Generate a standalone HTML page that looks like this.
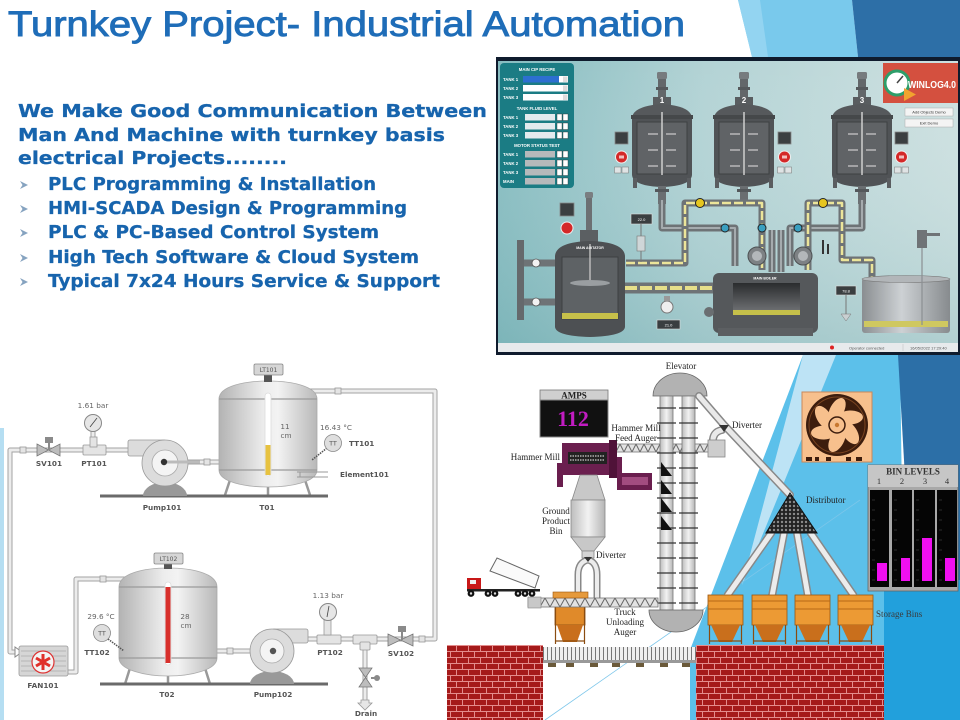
<!DOCTYPE html>
<html><head><meta charset="utf-8">
<style>
html,body{margin:0;padding:0;background:#fff;width:960px;height:720px;overflow:hidden}
svg{display:block}
.lb{font-family:"DejaVu Sans",sans-serif;font-weight:bold;font-size:7.3px;fill:#555;text-anchor:middle}
.vl{font-family:"DejaVu Sans",sans-serif;font-size:7.3px;fill:#666;text-anchor:middle}
.sf{font-family:"Liberation Serif",serif;font-size:9px;fill:#222}
.tw{font-family:"Liberation Sans",sans-serif;font-size:4.3px;fill:#fff;font-weight:bold}
.hd{font-family:"DejaVu Sans",sans-serif;font-weight:bold;font-size:18px;fill:#1764ad;stroke:#1764ad;stroke-width:0.3}
</style></head>
<body>
<svg width="960" height="720" viewBox="0 0 960 720" xmlns="http://www.w3.org/2000/svg">
<defs>
 <linearGradient id="scBg" x1="0" x2="1" y1="0" y2="0">
  <stop offset="0" stop-color="#86bcc0"/><stop offset="0.45" stop-color="#b3d3d5"/><stop offset="1" stop-color="#cde0e0"/>
 </linearGradient>
 <linearGradient id="scV" x1="0" x2="0" y1="0" y2="1">
  <stop offset="0" stop-color="#ffffff" stop-opacity="0"/><stop offset="1" stop-color="#5e9ea3" stop-opacity="0.25"/>
 </linearGradient>
 <linearGradient id="tankG" x1="0" x2="1" y1="0" y2="0">
  <stop offset="0" stop-color="#b3b3b3"/><stop offset="0.45" stop-color="#ececec"/><stop offset="0.6" stop-color="#f3f3f3"/><stop offset="1" stop-color="#b8b8b8"/>
 </linearGradient>
 <linearGradient id="rtG" x1="0" x2="1" y1="0" y2="0">
  <stop offset="0" stop-color="#8a8e91"/><stop offset="0.45" stop-color="#cdd1d4"/><stop offset="1" stop-color="#878b8e"/>
 </linearGradient>
 <linearGradient id="winG" x1="0" x2="0" y1="0" y2="1">
  <stop offset="0" stop-color="#2a2c2e"/><stop offset="1" stop-color="#77797c"/>
 </linearGradient>
 <linearGradient id="elG" x1="0" x2="1" y1="0" y2="0">
  <stop offset="0" stop-color="#bdbdbd"/><stop offset="0.5" stop-color="#f2f2f2"/><stop offset="1" stop-color="#b5b5b5"/>
 </linearGradient>
 <pattern id="brick" x="0" y="645" width="24" height="12" patternUnits="userSpaceOnUse">
  <rect width="24" height="12" fill="#a51a1a"/>
  <path d="M0,0.5H24M0,6.5H24M0.5,0V6.5M12.5,0V6.5M6.5,6.5V12M18.5,6.5V12" stroke="#e48c8c" stroke-width="1" fill="none"/>
 </pattern>
 <pattern id="roll" x="543" y="0" width="4" height="20" patternUnits="userSpaceOnUse">
  <rect width="4" height="20" fill="#efefef"/><rect width="1" height="20" fill="#777"/>
 </pattern>
 <pattern id="aug1" x="0" y="444" width="8" height="8" patternUnits="userSpaceOnUse">
  <rect width="8" height="8" fill="#e2e2e2"/><path d="M0,8L4,0L8,8" stroke="#666" fill="none" stroke-width="1"/>
 </pattern>
 <pattern id="aug2" x="0" y="598" width="10" height="9" patternUnits="userSpaceOnUse">
  <rect width="10" height="9" fill="#e2e2e2"/><path d="M0,9L5,0L10,9" stroke="#666" fill="none" stroke-width="1"/>
 </pattern>
 <pattern id="dots" width="4" height="4" patternUnits="userSpaceOnUse">
  <rect width="4" height="4" fill="#222"/><circle cx="2" cy="2" r="1.2" fill="#8a8a8a"/>
 </pattern>
 <g id="reactor">
  <rect x="-5" y="72" width="10" height="7" rx="1.5" fill="#777b7e"/>
  <rect x="-4" y="79" width="8" height="18" fill="#63676a"/>
  <rect x="-6" y="87" width="12" height="3" fill="#55595c"/>
  <rect x="-9" y="97" width="18" height="8" fill="#595d60"/>
  <path d="M-30,118 Q-29,106 0,104 Q29,106 30,118 Z" fill="#56595c"/>
  <rect x="-31" y="115" width="62" height="4" fill="#45484a"/>
  <rect x="-30" y="119" width="60" height="56" fill="#505356"/>
  <rect x="-25" y="122" width="50" height="52" fill="#606366" stroke="#3e4143" stroke-width="1"/>
  <line x1="0" y1="112" x2="0" y2="178" stroke="#cfcfcf" stroke-width="1.5"/>
  <path d="M-14,134H-4M4,134H14M-14,150H-4M4,150H14M-14,166H-4M4,166H14" stroke="#b8b8b8" stroke-width="1.5"/>
  <path d="M-30,175 Q-29,186 0,187 Q29,186 30,175 Z" fill="#505356"/>
  <rect x="-29" y="178" width="4" height="10" fill="#5a5d60"/>
  <rect x="25" y="178" width="4" height="10" fill="#5a5d60"/>
  <rect x="-4" y="186" width="8" height="18" fill="#6a6e71"/>
  <rect x="-7" y="189" width="14" height="3" fill="#54585b"/>
 </g>
 <g id="ctl">
  <rect x="0" y="0" width="13" height="12" fill="#3b3f41" stroke="#888" stroke-width="0.8"/>
  <circle cx="6.5" cy="25" r="6" fill="#d42828" stroke="#eee" stroke-width="1"/>
  <rect x="4" y="23.5" width="5" height="3" fill="#fff" opacity="0.7"/>
  <rect x="-0.5" y="35" width="6.5" height="6" fill="#dfe3e4" stroke="#777" stroke-width="0.5"/>
  <rect x="7" y="35" width="6.5" height="6" fill="#dfe3e4" stroke="#777" stroke-width="0.5"/>
 </g>
 <g id="bin">
  <rect x="0" y="595" width="35" height="30" fill="#ec9a34" stroke="#9a5510" stroke-width="0.8"/>
  <path d="M0,601H35M0,609H35" stroke="#b66816" stroke-width="1"/>
  <polygon points="3,625 32,625 24,642 11,642" fill="#c96f1c"/>
  <path d="M1.5,625V644M33.5,625V644M1,641H34" stroke="#8a4c10" stroke-width="1.2"/>
 </g>
</defs>

<!-- ===== Background decorations ===== -->
<rect width="960" height="720" fill="#fff"/>
<polygon points="738,0 852,0 858,57 752,57" fill="#79c9ec"/>
<polygon points="738,0 760,0 768,57 752,57" fill="#93d4f1"/>
<polygon points="852,0 960,0 960,57 858,57" fill="#2d6fa7"/>
<polygon points="803,355 900,355 905,720 690,720 690,650" fill="#5cc0ea"/>
<polygon points="803,355 836,355 742,585" fill="#bde3f5"/>
<polygon points="898,355 960,355 960,600 912,600" fill="#2c6fa7"/>
<polygon points="884,590 960,580 960,720 884,720" fill="#22a0dc"/>
<line x1="545" y1="720" x2="860" y2="500" stroke="#7cc6ea" stroke-width="0.8"/>
<rect x="0" y="428" width="4" height="292" fill="#b5def2"/>

<!-- ===== Title & text ===== -->
<text x="8" y="36" font-family="Liberation Sans, sans-serif" font-size="35" fill="#1f6db8" stroke="#1f6db8" stroke-width="0.9" textLength="677" lengthAdjust="spacingAndGlyphs">Turnkey Project- Industrial Automation</text>
<text class="hd" x="18" y="117" textLength="469" lengthAdjust="spacingAndGlyphs">We Make Good Communication Between</text>
<text class="hd" x="18" y="141" textLength="427" lengthAdjust="spacingAndGlyphs">Man And Machine with turnkey basis</text>
<text class="hd" x="18" y="164" textLength="269" lengthAdjust="spacingAndGlyphs">electrical Projects........</text>
<g fill="#86a3c0">
 <path d="M20,181L28,185L20,189L22.5,185Z"/>
 <path d="M20,205L28,209L20,213L22.5,209Z"/>
 <path d="M20,229L28,233L20,237L22.5,233Z"/>
 <path d="M20,254L28,258L20,262L22.5,258Z"/>
 <path d="M20,278L28,282L20,286L22.5,282Z"/>
</g>
<text class="hd" x="48" y="190" textLength="328" lengthAdjust="spacingAndGlyphs">PLC Programming &amp; Installation</text>
<text class="hd" x="48" y="214" textLength="359" lengthAdjust="spacingAndGlyphs">HMI-SCADA Design &amp; Programming</text>
<text class="hd" x="48" y="238" textLength="331" lengthAdjust="spacingAndGlyphs">PLC &amp; PC-Based Control System</text>
<text class="hd" x="48" y="263" textLength="371" lengthAdjust="spacingAndGlyphs">High Tech Software &amp; Cloud System</text>
<text class="hd" x="48" y="287" textLength="392" lengthAdjust="spacingAndGlyphs">Typical 7x24 Hours Service &amp; Support</text>

<!-- ===== SCADA panel ===== -->
<rect x="496" y="57" width="464" height="298" fill="#0f1b2d"/>
<rect x="498" y="61" width="460" height="282" fill="url(#scBg)"/>
<rect x="498" y="61" width="460" height="282" fill="url(#scV)"/>
<rect x="498" y="343" width="460" height="9" fill="#e7eaec"/>
<circle cx="832" cy="347.5" r="2" fill="#d22"/>
<text x="849" y="349.5" font-family="Liberation Sans, sans-serif" font-size="4" fill="#555">Operator connected</text>
<line x1="903" y1="344" x2="903" y2="351" stroke="#bbb" stroke-width="0.5"/>
<text x="910" y="349.5" font-family="Liberation Sans, sans-serif" font-size="4" fill="#555">16/05/2022 17:29:40</text>

<!-- control box -->
<rect x="500" y="63" width="74" height="125" rx="4" fill="#1b7c84"/>
<text class="tw" x="537" y="71" text-anchor="middle">MAIN CIP RECIPE</text>
<g>
 <text class="tw" x="503" y="81">TANK 1</text><rect x="523" y="76" width="45" height="6.5" fill="#fff"/><rect x="523" y="76" width="36" height="6.5" fill="#2d6fd0"/><rect x="563" y="76.5" width="4.5" height="5.5" fill="#ddd"/>
 <text class="tw" x="503" y="90">TANK 2</text><rect x="523" y="85" width="45" height="6.5" fill="#fff"/><rect x="563" y="85.5" width="4.5" height="5.5" fill="#ddd"/>
 <text class="tw" x="503" y="99">TANK 3</text><rect x="523" y="94" width="45" height="6.5" fill="#fff"/><rect x="563" y="94.5" width="4.5" height="5.5" fill="#ddd"/>
</g>
<text class="tw" x="537" y="110" text-anchor="middle">TANK FLUID LEVEL</text>
<g fill="#e3eaee">
 <text class="tw" x="503" y="119">TANK 1</text><rect x="525" y="114" width="30" height="6.5"/>
 <text class="tw" x="503" y="128">TANK 2</text><rect x="525" y="123" width="30" height="6.5"/>
 <text class="tw" x="503" y="137">TANK 3</text><rect x="525" y="132" width="30" height="6.5"/>
</g>
<text class="tw" x="537" y="147" text-anchor="middle">MOTOR STATUS TEST</text>
<g fill="#b6b9bb">
 <text class="tw" x="503" y="156">TANK 1</text><rect x="525" y="151" width="30" height="6.5"/>
 <text class="tw" x="503" y="165">TANK 2</text><rect x="525" y="160" width="30" height="6.5"/>
 <text class="tw" x="503" y="174">TANK 3</text><rect x="525" y="169" width="30" height="6.5"/>
 <text class="tw" x="503" y="183">MAIN</text><rect x="525" y="178" width="30" height="6.5"/>
</g>
<g fill="#fff" stroke="#333" stroke-width="0.4">
 <rect x="557" y="114" width="5" height="6.5"/><rect x="563" y="114" width="5" height="6.5"/>
 <rect x="557" y="123" width="5" height="6.5"/><rect x="563" y="123" width="5" height="6.5"/>
 <rect x="557" y="132" width="5" height="6.5"/><rect x="563" y="132" width="5" height="6.5"/>
 <rect x="557" y="151" width="5" height="6.5"/><rect x="563" y="151" width="5" height="6.5"/>
 <rect x="557" y="160" width="5" height="6.5"/><rect x="563" y="160" width="5" height="6.5"/>
 <rect x="557" y="169" width="5" height="6.5"/><rect x="563" y="169" width="5" height="6.5"/>
 <rect x="557" y="178" width="5" height="6.5"/><rect x="563" y="178" width="5" height="6.5"/>
</g>

<!-- reactors -->
<use href="#reactor" transform="translate(662,0)"/>
<use href="#reactor" transform="translate(744,0)"/>
<use href="#reactor" transform="translate(862,0)"/>
<g font-family="Liberation Sans, sans-serif" font-size="8" font-weight="bold" fill="#fff" text-anchor="middle">
 <text x="662" y="103">1</text><text x="744" y="103">2</text><text x="862" y="103">3</text>
</g>
<use href="#ctl" transform="translate(615,132)"/>
<use href="#ctl" transform="translate(778,132)"/>
<use href="#ctl" transform="translate(895,132)"/>

<!-- winlog -->
<rect x="883" y="63" width="75" height="40" fill="#d4503f"/>
<circle cx="897" cy="83" r="12" fill="#fff" stroke="#2e9e6a" stroke-width="3"/>
<line x1="897" y1="83" x2="903" y2="76" stroke="#444" stroke-width="1.5"/>
<text x="908" y="88" font-family="Liberation Sans, sans-serif" font-size="10" font-weight="bold" fill="#fff" textLength="48" lengthAdjust="spacingAndGlyphs">WINLOG4.0</text>
<polygon points="904,88 904,101 916,94.5" fill="#f2a32f"/>
<rect x="905" y="108" width="48" height="8" fill="#f4f4f4" stroke="#aaa" stroke-width="0.5"/>
<text x="929" y="113.5" font-family="Liberation Sans, sans-serif" font-size="4" fill="#333" text-anchor="middle">Add Objects Demo</text>
<rect x="905" y="119" width="48" height="8" fill="#f4f4f4" stroke="#aaa" stroke-width="0.5"/>
<text x="929" y="124.5" font-family="Liberation Sans, sans-serif" font-size="4" fill="#333" text-anchor="middle">Exit Demo</text>

<!-- lower scada pipes -->
<g fill="none" stroke-linejoin="round" stroke-linecap="butt">
 <path d="M662,200V228H735V266M862,200V228H790V266M772,230V272M781,230V272" stroke="#6e7376" stroke-width="7"/>
 <path d="M662,200V228H735V266M862,200V228H790V266M772,230V272M781,230V272" stroke="#a5abae" stroke-width="2"/>
 <path d="M626,263H685V203H762V270M808,270V203H842V260H872V278" stroke="#6e7376" stroke-width="7"/>
 <path d="M626,263H685V203H762V270M808,270V203H842V260H872V278" stroke="#ece59a" stroke-width="2.5" stroke-dasharray="9 3"/>
 <path d="M520,263H556M520,302H556" stroke="#6e7376" stroke-width="7"/>
 <path d="M625,288H713" stroke="#6e7376" stroke-width="11"/>
 <path d="M625,288H713" stroke="#e6df8a" stroke-width="4" stroke-dasharray="12 3"/>
</g>
<g>
 <circle cx="700" cy="203" r="4.5" fill="#e6c620" stroke="#222" stroke-width="1"/>
 <circle cx="823" cy="203" r="4.5" fill="#e6c620" stroke="#222" stroke-width="1"/>
 <circle cx="725" cy="228" r="4" fill="#3a9fc0" stroke="#222" stroke-width="1"/>
 <circle cx="798" cy="228" r="4" fill="#3a9fc0" stroke="#222" stroke-width="1"/>
 <circle cx="762" cy="228" r="4" fill="#3a9fc0" stroke="#222" stroke-width="1"/>
</g>
<!-- main agitator -->
<rect x="517" y="240" width="7" height="80" fill="#65696c"/>
<circle cx="536" cy="263" r="4" fill="#f2f2f2" stroke="#555" stroke-width="0.8"/>
<circle cx="536" cy="302" r="4" fill="#f2f2f2" stroke="#555" stroke-width="0.8"/>
<rect x="585" y="192" width="8" height="6" rx="1.5" fill="#7a7e81"/>
<rect x="586" y="198" width="6" height="40" fill="#6c7073"/>
<rect x="580" y="230" width="18" height="12" fill="#5b5f62"/>
<path d="M555,256 Q556,242 590,241 Q624,242 625,256 V327 Q624,336 590,337 Q556,336 555,327 Z" fill="#4d5053"/>
<rect x="562" y="257" width="56" height="62" fill="#5e6265" stroke="#3d4042" stroke-width="1"/>
<rect x="562" y="313" width="56" height="6" fill="#c7c04a"/>
<line x1="590" y1="244" x2="590" y2="285" stroke="#bbb" stroke-width="1.5"/>
<ellipse cx="590" cy="283" rx="20" ry="3" fill="#9a9ea1"/>
<text x="590" y="249" font-family="Liberation Sans, sans-serif" font-size="3.5" fill="#fff" text-anchor="middle" font-weight="bold">MAIN AGITATOR</text>
<rect x="560" y="203" width="14" height="13" fill="#3b3f41" stroke="#888" stroke-width="0.8"/>
<circle cx="567" cy="228" r="6" fill="#d42828" stroke="#eee" stroke-width="1"/>
<rect x="631" y="214" width="21" height="10" fill="#3a3e40" stroke="#ddd" stroke-width="0.6"/>
<text x="641.5" y="221" font-family="Liberation Sans, sans-serif" font-size="4" fill="#fff" text-anchor="middle">22.0</text>
<line x1="641" y1="224" x2="641" y2="262" stroke="#777" stroke-width="1"/>
<rect x="637" y="236" width="8" height="15" fill="#cfd6d8" stroke="#777" stroke-width="0.6"/>
<!-- boiler -->
<circle cx="757" cy="256" r="9" fill="#7d8184" stroke="#4d5153" stroke-width="1"/>
<circle cx="757" cy="256" r="5" fill="#b3b7ba"/>
<circle cx="803" cy="256" r="9" fill="#7d8184" stroke="#4d5153" stroke-width="1"/>
<circle cx="803" cy="256" r="5" fill="#b3b7ba"/>
<rect x="713" y="273" width="105" height="60" rx="6" fill="#55585b"/>
<rect x="733" y="283" width="67" height="32" fill="url(#winG)"/>
<rect x="733" y="310" width="67" height="5" fill="#c5c04a"/>
<rect x="718" y="328" width="95" height="8" fill="#5c5f62"/>
<circle cx="709" cy="312" r="5" fill="#6a6e71"/>
<text x="765" y="279.5" font-family="Liberation Sans, sans-serif" font-size="3.5" fill="#fff" text-anchor="middle" font-weight="bold">MAIN BOILER</text>
<circle cx="667" cy="307" r="6" fill="#eee" stroke="#777" stroke-width="1"/>
<rect x="664" y="296" width="6" height="5" fill="#999"/>
<rect x="657" y="320" width="23" height="9" fill="#3a3e40" stroke="#ddd" stroke-width="0.6"/>
<text x="668.5" y="326.5" font-family="Liberation Sans, sans-serif" font-size="4" fill="#fff" text-anchor="middle">21.0</text>
<rect x="822" y="240" width="2" height="14" fill="#333"/><rect x="827" y="244" width="2" height="10" fill="#333"/>
<!-- right tank -->
<rect x="862" y="278" width="88" height="55" rx="3" fill="url(#rtG)"/>
<ellipse cx="906" cy="279" rx="44" ry="3.5" fill="#b2b6b9" stroke="#777" stroke-width="0.6"/>
<rect x="864" y="321" width="84" height="6" fill="#cfc860"/>
<rect x="917" y="230" width="10" height="18" fill="#6f7376"/>
<rect x="927" y="233" width="13" height="3" fill="#6f7376"/>
<line x1="922" y1="248" x2="922" y2="325" stroke="#8b8f92" stroke-width="1.2"/>
<rect x="836" y="286" width="20" height="9" fill="#3a3e40" stroke="#ddd" stroke-width="0.6"/>
<text x="846" y="292.5" font-family="Liberation Sans, sans-serif" font-size="4" fill="#fff" text-anchor="middle">78.8</text>
<line x1="846" y1="295" x2="846" y2="316" stroke="#777" stroke-width="1"/>
<path d="M841,314 L851,314 L846,321 Z" fill="#c9cfd1" stroke="#777" stroke-width="0.5"/>

<!-- ===== P&ID (bottom left) ===== -->
<g fill="none" stroke-linejoin="round">
 <path d="M135,450H10V652H17M163,462H219M300,391H435V639H305M125,579H76V672H67M216,651H272M93,430V450M327,620V639M365,639V703" stroke="#a3a3a3" stroke-width="5"/>
 <path d="M135,450H10V652H17M163,462H219M300,391H435V639H305M125,579H76V672H67M216,651H272M93,430V450M327,620V639M365,639V703" stroke="#ececec" stroke-width="3"/>
</g>
<polygon points="15,647 22,652 15,657" fill="#fff" stroke="#888" stroke-width="1"/>
<g fill="#e4e4e4" stroke="#999" stroke-width="0.8">
 <rect x="20" y="447" width="6" height="6"/><rect x="204" y="459" width="6" height="6"/>
 <rect x="335" y="388" width="6" height="6"/><rect x="419" y="636" width="6" height="6"/>
 <rect x="227" y="648" width="6" height="6"/><rect x="100" y="576" width="6" height="6"/>
 <rect x="83" y="445" width="23" height="10" rx="1"/><rect x="317" y="635" width="24" height="9" rx="1"/>
 <rect x="353" y="635" width="24" height="9" rx="1"/><rect x="360" y="642" width="10" height="8" rx="1"/>
 <rect x="90" y="437" width="7" height="10"/><rect x="324" y="620" width="7" height="15"/>
</g>
<!-- gauges -->
<circle cx="93" cy="423" r="8.5" fill="#e6e6e6" stroke="#888" stroke-width="1"/>
<line x1="90" y1="427" x2="97" y2="418" stroke="#444" stroke-width="0.8"/>
<circle cx="328" cy="612" r="8.5" fill="#e6e6e6" stroke="#888" stroke-width="1"/>
<line x1="327" y1="617" x2="329" y2="606" stroke="#444" stroke-width="0.8"/>
<!-- valves -->
<g fill="#bdbdbd" stroke="#777" stroke-width="0.8">
 <polygon points="37,444 60,456 60,444 37,456"/>
 <polygon points="388,634 413,646 413,634 388,646"/>
 <polygon points="359,668 372,687 359,687 372,668"/>
</g>
<g fill="#8a8a8a">
 <rect x="45" y="437" width="8" height="6"/><rect x="48" y="443" width="2" height="7"/>
 <rect x="398" y="626" width="8" height="6"/><rect x="401" y="632" width="2" height="8"/>
 <circle cx="377" cy="678" r="3"/><rect x="371" y="677" width="4" height="2"/>
</g>
<polygon points="361,700 369,700 369,703 372,703 365,710 358,703 361,703" fill="#e6e6e6" stroke="#999" stroke-width="0.8"/>
<!-- T01 -->
<path d="M230,480L225,495M305,480L310,495M268,486V495" stroke="#999" stroke-width="2.5"/>
<path d="M219,399 C219,386 245,381 268,381 C291,381 317,386 317,399 L317,470 C317,482 291,487 268,487 C245,487 219,482 219,470 Z" fill="url(#tankG)" stroke="#aaa" stroke-width="0.8"/>
<path d="M219,399H317M219,470H317" stroke="#9a9a9a" stroke-width="1.2"/>
<rect x="265" y="393" width="6" height="83" rx="3" fill="#fff" stroke="#ddd" stroke-width="0.8"/>
<rect x="265.5" y="445" width="5" height="30" fill="#e7c240"/>
<rect x="264" y="374" width="8" height="8" fill="#555"/>
<rect x="254" y="364" width="29" height="11" rx="1.5" fill="#d6d6d6" stroke="#888" stroke-width="0.8"/>
<text x="268.5" y="372" font-family="DejaVu Sans, sans-serif" font-size="6" fill="#555" text-anchor="middle">LT101</text>
<!-- T02 -->
<path d="M130,668L125,684M205,668L210,684M168,674V684" stroke="#999" stroke-width="2.5"/>
<path d="M119,587 C119,573 145,568 168,568 C191,568 217,573 217,587 L217,658 C217,670 191,676 168,676 C145,676 119,670 119,658 Z" fill="url(#tankG)" stroke="#aaa" stroke-width="0.8"/>
<path d="M119,587H217M119,658H217" stroke="#9a9a9a" stroke-width="1.2"/>
<rect x="165" y="582" width="6" height="83" rx="3" fill="#fff" stroke="#ddd" stroke-width="0.8"/>
<rect x="165.5" y="587" width="5" height="76" fill="#d8302c"/>
<rect x="164" y="563" width="8" height="6" fill="#555"/>
<rect x="154" y="553" width="29" height="11" rx="1.5" fill="#d6d6d6" stroke="#888" stroke-width="0.8"/>
<text x="168.5" y="561" font-family="DejaVu Sans, sans-serif" font-size="6" fill="#555" text-anchor="middle">LT102</text>
<!-- ground lines -->
<rect x="100" y="494.5" width="228" height="3" fill="#6a6a6a"/>
<rect x="100" y="682.5" width="228" height="3" fill="#6a6a6a"/>
<!-- pump101 -->
<path d="M143,496 A22,14 0 0,1 187,496 Z" fill="#999"/>
<rect x="128" y="440" width="38" height="16" rx="2" fill="#dcdcdc" stroke="#999" stroke-width="0.8"/>
<circle cx="165" cy="463" r="23" fill="#dcdcdc" stroke="#999" stroke-width="0.8"/>
<circle cx="165" cy="463" r="13" fill="#f4f4f4" stroke="#aaa" stroke-width="0.8"/>
<line x1="165" y1="462" x2="200" y2="462" stroke="#bbb" stroke-width="3"/>
<circle cx="164" cy="462" r="3.2" fill="#333"/>
<!-- pump102 -->
<path d="M250,684 A22,13 0 0,1 294,684 Z" fill="#999"/>
<rect x="272" y="629" width="36" height="14" rx="2" fill="#dcdcdc" stroke="#999" stroke-width="0.8"/>
<circle cx="272" cy="651" r="22" fill="#dcdcdc" stroke="#999" stroke-width="0.8"/>
<circle cx="272" cy="651" r="12" fill="#f4f4f4" stroke="#aaa" stroke-width="0.8"/>
<circle cx="273" cy="651" r="3.2" fill="#555"/>
<!-- TT -->
<line x1="327" y1="448" x2="312" y2="460" stroke="#555" stroke-width="1.6" stroke-dasharray="1.5 1"/>
<circle cx="333" cy="443" r="8.5" fill="#dedede" stroke="#888" stroke-width="0.8"/>
<text x="333" y="445.5" font-family="DejaVu Sans, sans-serif" font-size="6.5" fill="#555" text-anchor="middle">TT</text>
<line x1="108" y1="639" x2="124" y2="651" stroke="#555" stroke-width="1.6" stroke-dasharray="1.5 1"/>
<circle cx="102" cy="633" r="8.5" fill="#dedede" stroke="#888" stroke-width="0.8"/>
<text x="102" y="635.5" font-family="DejaVu Sans, sans-serif" font-size="6.5" fill="#555" text-anchor="middle">TT</text>
<path d="M297,472H328M297,477H328M300,472V477" stroke="#999" stroke-width="1" fill="none"/>
<!-- fan101 -->
<rect x="19" y="646" width="49" height="30" rx="2" fill="#d6d6d6" stroke="#999" stroke-width="0.8"/>
<path d="M21,651H66M21,656H66M21,661H66M21,666H66M21,671H66" stroke="#aaa" stroke-width="0.7"/>
<circle cx="43" cy="662" r="11" fill="#f4f4f4" stroke="#d33" stroke-width="1.2"/>
<path d="M43,654V670M36,658L50,666M36,666L50,658" stroke="#e0302a" stroke-width="3"/>
<!-- labels -->
<text class="lb" x="49" y="466">SV101</text>
<text class="lb" x="94" y="466">PT101</text>
<text class="lb" x="162" y="510">Pump101</text>
<text class="lb" x="267" y="510">T01</text>
<text class="lb" x="349" y="446" style="text-anchor:start">TT101</text>
<text class="lb" x="340" y="477" style="text-anchor:start">Element101</text>
<text class="lb" x="43" y="688">FAN101</text>
<text class="lb" x="97" y="655">TT102</text>
<text class="lb" x="167" y="697">T02</text>
<text class="lb" x="273" y="697">Pump102</text>
<text class="lb" x="330" y="655">PT102</text>
<text class="lb" x="401" y="656">SV102</text>
<text class="lb" x="366" y="716">Drain</text>
<text class="vl" x="93" y="408">1.61 bar</text>
<text class="vl" x="336" y="430">16.43 °C</text>
<text class="vl" x="285" y="429">11</text><text class="vl" x="286" y="438">cm</text>
<text class="vl" x="101" y="619">29.6 °C</text>
<text class="vl" x="185" y="619">28</text><text class="vl" x="186" y="628">cm</text>
<text class="vl" x="328" y="598">1.13 bar</text>

<!-- ===== Factory (bottom right) ===== -->
<rect x="447" y="645" width="96" height="75" fill="url(#brick)"/>
<rect x="696" y="645" width="188" height="75" fill="url(#brick)"/>
<rect x="543" y="647" width="153" height="14" fill="url(#roll)"/>
<rect x="543" y="660" width="153" height="3" fill="#999"/>
<g fill="#6b5a3a">
 <rect x="548" y="663" width="8" height="4"/><rect x="566" y="663" width="8" height="4"/><rect x="590" y="663" width="8" height="4"/>
 <rect x="612" y="663" width="8" height="4"/><rect x="636" y="663" width="8" height="4"/><rect x="660" y="663" width="8" height="4"/><rect x="682" y="663" width="8" height="4"/>
</g>

<rect x="615" y="444" width="95" height="8" fill="url(#aug1)" stroke="#777" stroke-width="0.8"/>
<path d="M653,396 A27,23 0 0,1 707,396 Z" fill="#b2b2b2" stroke="#666" stroke-width="0.8"/>
<rect x="660" y="396" width="13" height="214" fill="url(#elG)" stroke="#777" stroke-width="0.8"/>
<rect x="682" y="396" width="13" height="214" fill="url(#elG)" stroke="#777" stroke-width="0.8"/>
<path d="M657,408H676M679,408H698M657,423H676M679,423H698M657,438H676M679,438H698M657,453H676M679,453H698M657,468H676M679,468H698M657,483H676M679,483H698M657,498H676M679,498H698M657,513H676M679,513H698M657,528H676M679,528H698M657,543H676M679,543H698M657,558H676M679,558H698M657,573H676M679,573H698M657,588H676M679,588H698M657,603H676M679,603H698" stroke="#333" stroke-width="1.3"/>
<g fill="#111">
 <polygon points="661,462 672,476 661,476"/><polygon points="661,480 672,494 661,494"/>
 <polygon points="661,498 672,512 661,512"/><polygon points="661,516 672,530 661,530"/>
</g>
<path d="M649,610 A27,22 0 0,0 703,610 Z" fill="#b2b2b2" stroke="#666" stroke-width="0.8"/>
<g fill="none" stroke-linecap="round">
 <path d="M699,396 L724,425 L790,495 M722,430 Q712,432 713,443" stroke="#888" stroke-width="8"/>
 <path d="M699,396 L724,425 L790,495 M722,430 Q712,432 713,443" stroke="#e9e9e9" stroke-width="5"/>
</g>
<rect x="708" y="440" width="17" height="17" fill="#cdcdcd" stroke="#888" stroke-width="0.8"/>
<path d="M719,425 L729,425 L724,432 Z" fill="#333"/>

<rect x="540" y="390" width="68" height="10" fill="#cfcfcf" stroke="#777" stroke-width="0.8"/>
<text x="574" y="398.5" font-family="Liberation Serif, serif" font-size="9" font-weight="bold" fill="#222" text-anchor="middle">AMPS</text>
<rect x="540" y="400" width="68" height="37" fill="#111" stroke="#888" stroke-width="1"/>
<text x="573" y="426" font-family="Liberation Serif, serif" font-size="22" font-weight="bold" fill="#c21cc2" text-anchor="middle">112</text>

<rect x="557" y="463" width="6" height="24" fill="#6a1e4e"/>
<rect x="615" y="457" width="7" height="20" fill="#6a1e4e"/>
<rect x="617" y="473" width="35" height="17" fill="#6a1e4e"/>
<rect x="622" y="477" width="26" height="8" fill="#a24c80"/>
<rect x="562" y="443" width="53" height="32" fill="#6b1f4f"/>
<rect x="609" y="440" width="8" height="38" fill="#4f1238"/>
<rect x="568" y="452" width="39" height="12" fill="#222"/>
<path d="M570,456H605M570,460H605" stroke="#ccc" stroke-width="1.2" stroke-dasharray="1.5 1"/>
<polygon points="580,475 597,475 605,500 572,500" fill="#c8c8c8" stroke="#888" stroke-width="0.8"/>
<rect x="571" y="500" width="34" height="37" fill="url(#elG)" stroke="#888" stroke-width="0.8"/>
<polygon points="571,537 605,537 594,551 582,551" fill="#c8c8c8" stroke="#888" stroke-width="0.8"/>
<rect x="582" y="551" width="12" height="7" fill="#d5d5d5" stroke="#888" stroke-width="0.8"/>
<g fill="none">
 <path d="M588,560 Q578,562 578,575 V598 M588,560 Q597,562 597,575 V598" stroke="#888" stroke-width="7"/>
 <path d="M588,560 Q578,562 578,575 V598 M588,560 Q597,562 597,575 V598" stroke="#ececec" stroke-width="4"/>
</g>
<path d="M584,557 L592,557 L588,562 Z" fill="#333"/>
<polygon points="490,571 497,558 539,576 535,588" fill="#fafafa" stroke="#666" stroke-width="1"/>
<rect x="467" y="578" width="14" height="12" fill="#c81818"/>
<rect x="470" y="580" width="6" height="4" fill="#eee"/>
<rect x="467" y="589" width="73" height="2.5" fill="#222"/>
<g fill="#111">
 <circle cx="471" cy="593.5" r="3.4"/><circle cx="488" cy="593.5" r="3.4"/><circle cx="495" cy="593.5" r="3.4"/>
 <circle cx="518" cy="593.5" r="3.4"/><circle cx="525" cy="593.5" r="3.4"/><circle cx="532" cy="593.5" r="3.4"/>
</g>
<g fill="#ddd">
 <circle cx="471" cy="593.5" r="1.2"/><circle cx="488" cy="593.5" r="1.2"/><circle cx="495" cy="593.5" r="1.2"/>
 <circle cx="518" cy="593.5" r="1.2"/><circle cx="525" cy="593.5" r="1.2"/><circle cx="532" cy="593.5" r="1.2"/>
</g>
<rect x="555" y="606" width="30" height="19" fill="#e08a2a" stroke="#8a4c10" stroke-width="0.8"/>
<polygon points="557,625 583,625 577,642 563,642" fill="#c96f1c"/>
<path d="M555.5,606V644M584.5,606V644M555,641H585" stroke="#8a4c10" stroke-width="1.2"/>
<rect x="528" y="598" width="130" height="9" fill="url(#aug2)" stroke="#777" stroke-width="0.8"/>
<rect x="528" y="597" width="13" height="11" fill="#c8c8c8" stroke="#888" stroke-width="0.6"/>
<rect x="553" y="592" width="35" height="6" fill="#e69a3c" stroke="#9a5510" stroke-width="0.6"/>

<g fill="none">
 <path d="M772,532L727,596M784,533L772,596M797,533L808,596M810,532L854,596" stroke="#888" stroke-width="8"/>
 <path d="M772,532L727,596M784,533L772,596M797,533L808,596M810,532L854,596" stroke="#ececec" stroke-width="5"/>
</g>
<polygon points="790,493 766,533 817,533" fill="url(#dots)" stroke="#111" stroke-width="1"/>
<use href="#bin" transform="translate(708,0)"/>
<use href="#bin" transform="translate(752,0)"/>
<use href="#bin" transform="translate(795,0)"/>
<use href="#bin" transform="translate(838,0)"/>

<rect x="802" y="392" width="70" height="70" fill="#f7c08d" stroke="#c8885a" stroke-width="1"/>
<circle cx="837" cy="425" r="31" fill="#3d1d0d"/>
<circle cx="837" cy="425" r="28" fill="none" stroke="#7a4420" stroke-width="1"/>
<g fill="#f7c08d">
 <ellipse cx="837" cy="410" rx="7" ry="13" transform="rotate(0,837,425) rotate(28,837,410)"/>
 <ellipse cx="837" cy="410" rx="7" ry="13" transform="rotate(60,837,425) rotate(28,837,410)"/>
 <ellipse cx="837" cy="410" rx="7" ry="13" transform="rotate(120,837,425) rotate(28,837,410)"/>
 <ellipse cx="837" cy="410" rx="7" ry="13" transform="rotate(180,837,425) rotate(28,837,410)"/>
 <ellipse cx="837" cy="410" rx="7" ry="13" transform="rotate(240,837,425) rotate(28,837,410)"/>
 <ellipse cx="837" cy="410" rx="7" ry="13" transform="rotate(300,837,425) rotate(28,837,410)"/>
</g>
<circle cx="837" cy="425" r="8" fill="#f7c08d" stroke="#3d1d0d" stroke-width="1.5"/>
<circle cx="837" cy="425" r="2.2" fill="#c8782f"/>
<g fill="#3d1d0d"><rect x="806" y="457" width="6" height="4"/><rect x="815" y="457" width="4" height="4"/><rect x="826" y="457" width="5" height="4"/><rect x="846" y="457" width="5" height="4"/><rect x="856" y="457" width="6" height="4"/></g>

<rect x="868" y="465" width="90" height="126" fill="#a8a8a8" stroke="#666" stroke-width="0.8"/>
<rect x="868" y="465" width="90" height="22" fill="#c6c6c6"/>
<text x="913" y="474.5" font-family="Liberation Serif, serif" font-size="9" font-weight="bold" fill="#333" text-anchor="middle">BIN LEVELS</text>
<g font-family="Liberation Serif, serif" font-size="8.5" fill="#333" text-anchor="middle">
 <text x="879" y="484">1</text><text x="902" y="484">2</text><text x="925" y="484">3</text><text x="947" y="484">4</text>
</g>
<g fill="#050505">
 <rect x="870" y="490" width="19" height="97"/><rect x="892" y="490" width="20" height="97"/>
 <rect x="914" y="490" width="21" height="97"/><rect x="937" y="490" width="20" height="97"/>
</g>
<g stroke="#555" stroke-width="0.6">
 <path d="M872,500h3M872,510h3M872,520h3M872,530h3M872,540h3M872,550h3M872,560h3M872,570h3M872,580h3"/>
 <path d="M894,500h3M894,510h3M894,520h3M894,530h3M894,540h3M894,550h3M894,560h3M894,570h3M894,580h3"/>
 <path d="M916,500h3M916,510h3M916,520h3M916,530h3M916,540h3M916,550h3M916,560h3M916,570h3M916,580h3"/>
 <path d="M939,500h3M939,510h3M939,520h3M939,530h3M939,540h3M939,550h3M939,560h3M939,570h3M939,580h3"/>
</g>
<g fill="#f00ff0">
 <rect x="877" y="563" width="10" height="18"/><rect x="901" y="558" width="9" height="23"/>
 <rect x="922" y="538" width="10" height="43"/><rect x="945" y="558" width="10" height="23"/>
</g>

<text class="sf" x="681" y="369" text-anchor="middle">Elevator</text>
<text class="sf" x="560" y="460" text-anchor="end">Hammer Mill</text>
<text class="sf" x="636" y="431" text-anchor="middle">Hammer Mill</text>
<text class="sf" x="636" y="441" text-anchor="middle">Feed Auger</text>
<text class="sf" x="732" y="428">Diverter</text>
<text class="sf" x="556" y="514" text-anchor="middle">Ground</text>
<text class="sf" x="556" y="524" text-anchor="middle">Product</text>
<text class="sf" x="556" y="534" text-anchor="middle">Bin</text>
<text class="sf" x="596" y="558">Diverter</text>
<text class="sf" x="625" y="615" text-anchor="middle">Truck</text>
<text class="sf" x="625" y="625" text-anchor="middle">Unloading</text>
<text class="sf" x="625" y="635" text-anchor="middle">Auger</text>
<text class="sf" x="806" y="503">Distributor</text>
<text class="sf" x="876" y="617" style="fill:#3a3a3a">Storage Bins</text>
</svg>
</body></html>
